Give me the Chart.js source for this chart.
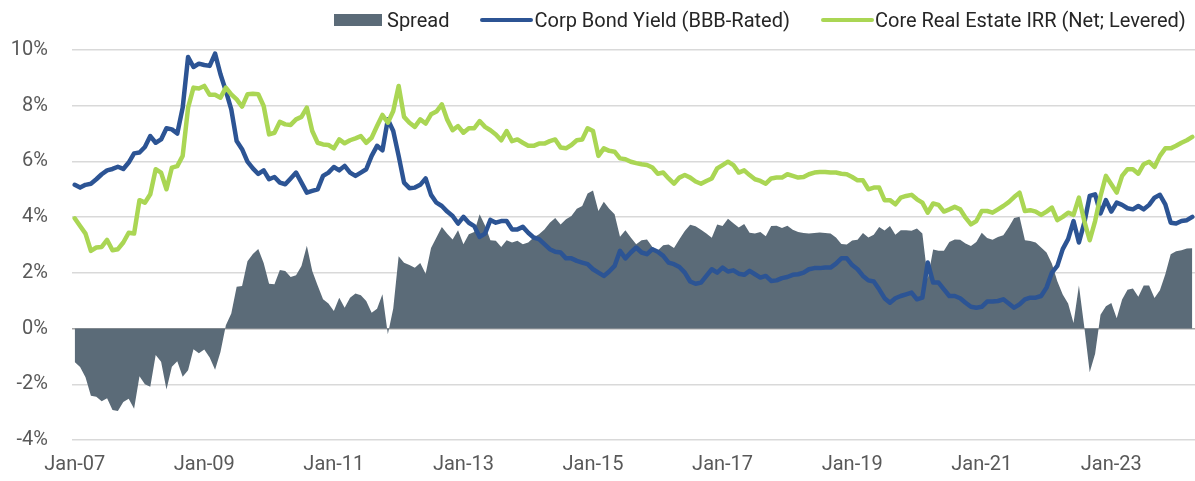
<!DOCTYPE html>
<html>
<head>
<meta charset="utf-8">
<script src="https://cdn.jsdelivr.net/npm/chart.js@4/dist/chart.umd.min.js"></script>
<style>
  html, body { margin: 0; padding: 0; background: #fff; }
  #wrap { position: relative; width: 1195px; height: 481px; }
  #legend {
    position: absolute; left: 334px; top: 8px;
    display: flex; align-items: center;
    font-family: Roboto, "Open Sans", sans-serif; font-size: 20px; color: #262626;
    white-space: nowrap;
  }
  #legend .box { width: 48px; height: 12px; background: #5b6b78; margin-right: 5px; }
  #legend .line { width: 53px; height: 4px; border-radius: 2px; margin-right: 1px; }
  #legend .gap { width: 31px; }
</style>
</head>
<body>
<div id="wrap">
  <canvas id="spreadChart" width="1195" height="481"></canvas>
  <div id="legend">
    <span class="box"></span><span>Spread</span><span class="gap"></span>
    <span class="line" style="background:#2c5494"></span><span>Corp Bond Yield (BBB-Rated)</span><span class="gap"></span>
    <span class="line" style="background:#aad654"></span><span>Core Real Estate IRR (Net; Levered)</span>
  </div>
</div>
<script>
/* Spread vs Corp Bond Yield vs Core RE IRR, monthly Jan-07 .. Apr-24 */

const tickLabels = ['Jan-07', 'Jan-09', 'Jan-11', 'Jan-13', 'Jan-15', 'Jan-17', 'Jan-19', 'Jan-21', 'Jan-23'];
const monthNames = ['Jan', 'Feb', 'Mar', 'Apr', 'May', 'Jun', 'Jul', 'Aug', 'Sep', 'Oct', 'Nov', 'Dec'];

// Corp Bond Yield (BBB-Rated), %
const bbbYield = [
  5.16, 5.06, 5.16, 5.20, 5.36, 5.54, 5.68, 5.73, 5.81, 5.73, 5.96, 6.29,
  6.32, 6.52, 6.91, 6.67, 6.79, 7.19, 7.15, 7.00, 7.93, 9.75, 9.39, 9.51,
  9.46, 9.43, 9.87, 9.13, 8.53, 7.87, 6.73, 6.44, 5.99, 5.75, 5.55, 5.68,
  5.36, 5.44, 5.24, 5.18, 5.39, 5.60, 5.24, 4.88, 4.94, 5.00, 5.48, 5.60,
  5.80, 5.68, 5.84, 5.60, 5.48, 5.60, 5.72, 6.20, 6.56, 6.40, 7.51, 7.09,
  6.20, 5.24, 5.04, 5.06, 5.16, 5.39, 4.80, 4.52, 4.40, 4.20, 4.04, 3.77,
  4.01, 3.80, 3.68, 3.29, 3.41, 3.90, 3.80, 3.86, 3.86, 3.56, 3.56, 3.65,
  3.44, 3.27, 3.21, 3.03, 2.85, 2.76, 2.73, 2.52, 2.52, 2.43, 2.37, 2.31,
  2.13, 2.01, 1.89, 2.05, 2.25, 2.79, 2.52, 2.73, 2.91, 2.73, 2.67, 2.85,
  2.76, 2.61, 2.37, 2.31, 2.21, 2.01, 1.69, 1.61, 1.65, 1.89, 2.13, 2.01,
  2.19, 2.05, 2.09, 1.97, 1.93, 2.07, 1.95, 1.83, 1.89, 1.71, 1.73, 1.81,
  1.85, 1.93, 1.95, 2.01, 2.13, 2.17, 2.17, 2.19, 2.19, 2.33, 2.52, 2.52,
  2.28, 2.13, 1.89, 1.73, 1.69, 1.41, 1.09, 0.93, 1.09, 1.17, 1.23, 1.29,
  1.05, 1.11, 2.37, 1.65, 1.65, 1.41, 1.17, 1.17, 1.09, 0.93, 0.78, 0.75,
  0.78, 0.97, 0.97, 0.99, 1.05, 0.90, 0.75, 0.87, 1.05, 1.11, 1.11, 1.17,
  1.47, 2.01, 2.25, 2.85, 3.21, 3.86, 3.09, 3.80, 4.76, 4.82, 4.13, 4.61,
  4.20, 4.52, 4.44, 4.32, 4.28, 4.40, 4.28, 4.44, 4.70, 4.80, 4.46, 3.80,
  3.77, 3.86, 3.89, 4.01
];

// Core Real Estate IRR (Net; Levered), %
const coreIrr = [
  3.96, 3.68, 3.41, 2.79, 2.91, 2.93, 3.18, 2.81, 2.85, 3.09, 3.44, 3.41,
  4.61, 4.52, 4.82, 5.72, 5.60, 5.00, 5.78, 5.83, 6.20, 7.93, 8.65, 8.62,
  8.71, 8.39, 8.39, 8.29, 8.65, 8.41, 8.23, 7.97, 8.41, 8.43, 8.41, 7.99,
  6.97, 7.03, 7.42, 7.33, 7.31, 7.51, 7.60, 7.93, 7.09, 6.67, 6.61, 6.59,
  6.47, 6.79, 6.65, 6.76, 6.83, 6.91, 6.67, 6.85, 7.27, 7.67, 7.39, 7.81,
  8.71, 7.60, 7.39, 7.24, 7.51, 7.36, 7.69, 7.79, 8.05, 7.50, 7.12, 7.27,
  7.03, 7.19, 7.19, 7.45, 7.24, 7.12, 6.97, 6.76, 7.09, 6.73, 6.79, 6.67,
  6.56, 6.56, 6.64, 6.64, 6.73, 6.79, 6.50, 6.47, 6.59, 6.76, 6.79, 7.19,
  7.09, 6.20, 6.47, 6.38, 6.35, 6.11, 6.08, 5.99, 5.94, 5.90, 5.87, 5.78,
  5.56, 5.60, 5.39, 5.20, 5.42, 5.51, 5.42, 5.28, 5.20, 5.30, 5.39, 5.75,
  5.87, 5.99, 5.87, 5.60, 5.68, 5.51, 5.36, 5.30, 5.20, 5.39, 5.42, 5.42,
  5.54, 5.48, 5.42, 5.44, 5.54, 5.60, 5.62, 5.62, 5.60, 5.60, 5.56, 5.54,
  5.44, 5.32, 5.32, 5.00, 5.06, 5.06, 4.61, 4.61, 4.46, 4.70, 4.76, 4.80,
  4.64, 4.52, 4.16, 4.49, 4.44, 4.20, 4.28, 4.37, 4.28, 3.98, 3.74, 3.86,
  4.22, 4.22, 4.16, 4.28, 4.40, 4.54, 4.72, 4.88, 4.22, 4.25, 4.20, 4.08,
  4.20, 4.34, 3.89, 4.01, 4.16, 4.08, 4.70, 3.86, 3.17, 3.86, 4.76, 5.48,
  5.18, 4.88, 5.48, 5.72, 5.72, 5.56, 5.90, 5.99, 5.80, 6.20, 6.47, 6.47,
  6.56, 6.67, 6.76, 6.88
];

// Spread (IRR less BBB yield), %
const spread = [
  -1.20, -1.38, -1.75, -2.41, -2.45, -2.61, -2.50, -2.92, -2.96, -2.64, -2.52, -2.88,
  -1.71, -2.00, -2.09, -0.95, -1.19, -2.19, -1.37, -1.17, -1.73, -1.50, -0.74, -0.89,
  -0.75, -1.04, -1.48, -0.84, 0.12, 0.54, 1.50, 1.53, 2.42, 2.68, 2.86, 2.35,
  1.61, 1.59, 2.10, 2.07, 1.85, 1.91, 2.25, 2.97, 2.07, 1.55, 1.05, 0.90,
  0.63, 1.11, 0.75, 1.11, 1.26, 1.20, 0.99, 0.57, 0.71, 1.23, -0.20, 0.72,
  2.60, 2.36, 2.28, 2.18, 2.35, 1.97, 2.89, 3.27, 3.65, 3.40, 3.20, 3.53,
  3.03, 3.39, 3.47, 4.10, 3.70, 3.17, 3.15, 2.93, 3.17, 3.09, 3.15, 3.03,
  3.09, 3.27, 3.39, 3.56, 3.80, 3.97, 3.74, 3.92, 4.04, 4.30, 4.40, 4.85,
  4.96, 4.22, 4.55, 4.30, 4.10, 3.30, 3.53, 3.27, 3.03, 3.17, 3.20, 2.93,
  2.80, 2.99, 3.02, 2.89, 3.21, 3.50, 3.73, 3.67, 3.55, 3.41, 3.26, 3.74,
  3.68, 3.94, 3.78, 3.63, 3.75, 3.44, 3.41, 3.47, 3.31, 3.68, 3.69, 3.61,
  3.69, 3.55, 3.47, 3.43, 3.41, 3.43, 3.45, 3.43, 3.41, 3.27, 3.04, 3.02,
  3.16, 3.19, 3.43, 3.27, 3.37, 3.65, 3.52, 3.68, 3.37, 3.53, 3.53, 3.51,
  3.59, 3.41, 1.79, 2.84, 2.79, 2.79, 3.11, 3.20, 3.19, 3.05, 2.96, 3.11,
  3.44, 3.25, 3.19, 3.29, 3.35, 3.64, 3.97, 4.01, 3.17, 3.14, 3.09, 2.91,
  2.73, 2.33, 1.70, 1.22, 0.90, 0.20, 1.55, 0.05, -1.57, -0.90, 0.50, 0.80,
  0.92, 0.37, 1.04, 1.39, 1.44, 1.14, 1.55, 1.55, 1.10, 1.38, 1.95, 2.67,
  2.78, 2.81, 2.87, 2.88
];

// month categories Jan-07 onwards, one per data point
const months = spread.map((_, i) => {
  const yr = 7 + Math.floor(i / 12);
  return monthNames[i % 12] + '-' + String(yr).padStart(2, '0');
});

const axisFont = { family: 'Roboto, "Open Sans", sans-serif', size: 20 };

new Chart(document.getElementById('spreadChart'), {
  type: 'line',
  data: {
    labels: months,
    datasets: [
      {
        label: 'Core Real Estate IRR (Net; Levered)',
        data: coreIrr,
        borderColor: '#aad654',
        borderWidth: 4.5,
        pointRadius: 0,
        fill: false,
        order: 1,
      },
      {
        label: 'Corp Bond Yield (BBB-Rated)',
        data: bbbYield,
        borderColor: '#2c5494',
        borderWidth: 4.5,
        pointRadius: 0,
        fill: false,
        order: 2,
      },
      {
        label: 'Spread',
        data: spread,
        borderColor: '#5b6b78',
        backgroundColor: '#5b6b78',
        borderWidth: 0,
        pointRadius: 0,
        fill: 'origin',
        order: 3,
      }
    ]
  },
  options: {
    responsive: false,
    animation: false,
    devicePixelRatio: 1,
    layout: {
      padding: { top: 50, right: 0, bottom: 0, left: 0 }
    },
    elements: {
      line: {
        tension: 0,
        borderJoinStyle: 'round',
        borderCapStyle: 'round',
      }
    },
    plugins: {
      legend: { display: false },
      tooltip: { enabled: false },
    },
    scales: {
      x: {
        type: 'category',
        offset: true,
        grid: { display: false, drawTicks: false },
        border: { display: false },
        afterFit: function(scale) { scale.height = 41; },
        ticks: {
          autoSkip: false,
          maxRotation: 0,
          padding: 13,
          color: '#595959',
          font: axisFont,
          callback: function(value) {
            const lbl = this.getLabelForValue(value);
            return tickLabels.includes(lbl) ? lbl : null;
          }
        }
      },
      y: {
        min: -4,
        max: 10,
        grid: {
          drawTicks: false,
          lineWidth: 1.5,
          color: function(ctx) {
            return ctx.tick && ctx.tick.value === 0 ? '#a6a6a6' : '#d9d9d9';
          }
        },
        border: { display: false },
        afterFit: function(scale) { scale.width = 72; },
        ticks: {
          stepSize: 2,
          padding: 24,
          color: '#595959',
          font: axisFont,
          callback: function(value) { return value + '%'; }
        }
      }
    }
  }
});
</script>
</body>
</html>
